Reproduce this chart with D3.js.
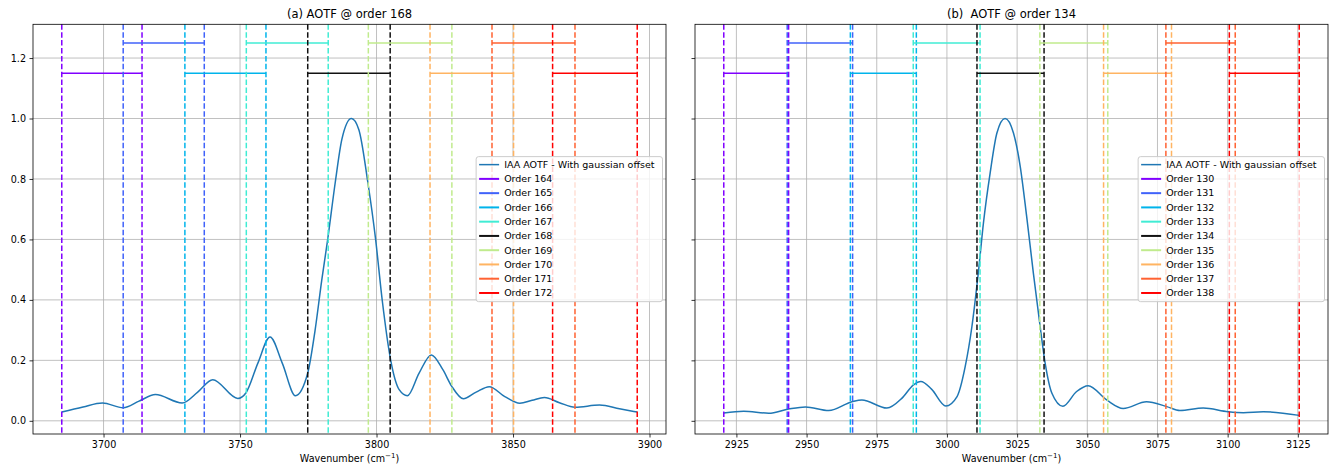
<!DOCTYPE html>
<html>
<head>
<meta charset="utf-8">
<script src="https://cdn.jsdelivr.net/npm/d3@7"></script>
<style>
  body { margin: 0; background: #fff; }
  text { font-family: "DejaVu Sans", sans-serif; }
</style>
</head>
<body>
<svg id="chart" width="1329" height="470"></svg>
<script>
// ---- data ----
const ordersA = [164, 165, 166, 167, 168, 169, 170, 171, 172];
const startA = [3684.7, 3707.2, 3729.8, 3752.3, 3774.8, 3797.0, 3819.6, 3842.3, 3864.5];
const endA   = [3714.1, 3736.9, 3759.5, 3782.3, 3805.0, 3827.6, 3850.2, 3872.7, 3895.5];

const ordersB = [130, 131, 132, 133, 134, 135, 136, 137, 138];
const startB = [2920.5, 2943.1, 2965.6, 2988.0, 3010.7, 3033.1, 3055.8, 3078.0, 3100.6];
const endB   = [2943.6, 2966.4, 2989.1, 3011.8, 3034.6, 3057.3, 3080.0, 3102.7, 3125.5];

// height of the order bars (alternating)
const barLevels = [1.15, 1.25, 1.15, 1.25, 1.15, 1.25, 1.15, 1.25, 1.15];

// AOTF curve, panel (a)
const curveAx = [3684.7, 3692.5, 3699.6, 3707.2, 3713.0, 3719.0, 3728.8, 3734.5, 3740.0, 3749.2,
  3752.2, 3756.5, 3761.0, 3765.5, 3770.3, 3774.8, 3777.5, 3779.9, 3782.1, 3784.9, 3787.3, 3790.8,
  3793.5, 3796.8, 3799.6, 3802.1, 3805.2, 3808.3, 3811.3, 3815.6, 3820.1, 3824.3, 3827.5, 3831.8,
  3836.5, 3841.3, 3847.0, 3852.5, 3857.0, 3861.5, 3867.0, 3872.7, 3881.7, 3889.0, 3895.5];
const curveAy = [0.029, 0.046, 0.059, 0.043, 0.065, 0.087, 0.059, 0.095, 0.136, 0.074,
  0.093, 0.19, 0.277, 0.19, 0.083, 0.158, 0.30, 0.463, 0.599, 0.79, 0.931, 1.0,
  0.964, 0.79, 0.605, 0.398, 0.20, 0.103, 0.083, 0.158, 0.218, 0.169, 0.115, 0.073,
  0.095, 0.113, 0.080, 0.058, 0.068, 0.077, 0.060, 0.045, 0.052, 0.040, 0.029];

// AOTF curve, panel (b)
const curveBx = [2920.5, 2927.6, 2936.5, 2943.6, 2949.6, 2957.9, 2966.2, 2969.7, 2978.6, 2984.0,
  2988.1, 2990.7, 2994.5, 2999.6, 3003.6, 3006.5, 3008.9, 3011.3, 3013.0, 3015.4, 3017.8, 3020.7,
  3023.7, 3026.1, 3028.4, 3030.8, 3033.2, 3035.0, 3037.4, 3041.3, 3046.2, 3050.3, 3056.9, 3062.8,
  3071.1, 3078.3, 3083.0, 3091.3, 3100.2, 3105.6, 3112.7, 3125.5];
const curveBy = [0.026, 0.032, 0.025, 0.039, 0.046, 0.034, 0.063, 0.069, 0.042, 0.075,
  0.119, 0.13, 0.105, 0.049, 0.08, 0.179, 0.312, 0.50, 0.654, 0.82, 0.952, 1.0,
  0.952, 0.842, 0.676, 0.488, 0.312, 0.19, 0.091, 0.048, 0.097, 0.116, 0.069, 0.041,
  0.063, 0.047, 0.034, 0.042, 0.030, 0.027, 0.030, 0.018];

const ticksA = [3700, 3750, 3800, 3850, 3900];
const ticksB = [2925, 2950, 2975, 3000, 3025, 3050, 3075, 3100, 3125];
const ticksY = [0, 0.2, 0.4, 0.6, 0.8, 1.0, 1.2];

const orderColors = ["#8000ff", "#4062fa", "#00b4eb", "#40ecd4", "#111111",
                     "#c0eb8d", "#ffb462", "#ff6232", "#ff0000"];

const svg = d3.select("#chart");
const plotTop = 24.3, plotBottom = 434;

// matplotlib style 5% margins
function pad(ext) {
  const s = ext[1] - ext[0];
  return [ext[0] - 0.05 * s, ext[1] + 0.05 * s];
}

const y = d3.scaleLinear()
  .domain(pad(d3.extent([...curveAy, ...curveBy, ...barLevels])))
  .range([plotBottom, plotTop]);

const panels = [
  { title: "(a) AOTF @ order 168", x0: 33, x1: 666, cx: curveAx, cy: curveAy,
    orders: ordersA, starts: startA, ends: endA, ticks: ticksA, yLabels: true },
  { title: "(b)  AOTF @ order 134", x0: 695, x1: 1328, cx: curveBx, cy: curveBy,
    orders: ordersB, starts: startB, ends: endB, ticks: ticksB, yLabels: false }
];

panels.forEach(p => {
  const x = d3.scaleLinear()
    .domain(pad(d3.extent([...p.cx, ...p.starts, ...p.ends])))
    .range([p.x0, p.x1]);

  const g = svg.append("g");

  // grid
  g.append("g").selectAll("line").data(p.ticks).join("line")
    .attr("x1", d => x(d)).attr("x2", d => x(d))
    .attr("y1", plotTop).attr("y2", plotBottom)
    .attr("stroke", "#b0b0b0").attr("stroke-opacity", 0.8).attr("stroke-width", 1);
  g.append("g").selectAll("line").data(ticksY).join("line")
    .attr("x1", p.x0).attr("x2", p.x1)
    .attr("y1", d => y(d)).attr("y2", d => y(d))
    .attr("stroke", "#b0b0b0").attr("stroke-opacity", 0.8).attr("stroke-width", 1);

  // AOTF curve
  const pts = p.cx.map((v, i) => [v, p.cy[i]]);
  g.append("path")
    .datum(pts)
    .attr("fill", "none")
    .attr("stroke", "#1f77b4")
    .attr("stroke-width", 1.5)
    .attr("d", d3.line().x(d => x(d[0])).y(d => y(d[1])).curve(d3.curveMonotoneX));

  // order edges and bars
  p.orders.forEach((o, i) => {
    [p.starts[i], p.ends[i]].forEach(v => {
      g.append("line")
        .attr("x1", x(v)).attr("x2", x(v))
        .attr("y1", plotTop).attr("y2", plotBottom)
        .attr("stroke", orderColors[i])
        .attr("stroke-width", 1.5)
        .attr("stroke-dasharray", "5.5,2.4");
    });
    g.append("line")
      .attr("x1", x(p.starts[i])).attr("x2", x(p.ends[i]))
      .attr("y1", y(barLevels[i])).attr("y2", y(barLevels[i]))
      .attr("stroke", orderColors[i])
      .attr("stroke-width", 1.5);
  });

  // axes
  const xAxis = g.append("g")
    .attr("transform", `translate(0,${plotBottom})`)
    .call(d3.axisBottom(x).tickValues(p.ticks).tickSize(3.5).tickPadding(3.5).tickFormat(d3.format("d")));
  const yAxis = g.append("g")
    .attr("transform", `translate(${p.x0},0)`)
    .call(d3.axisLeft(y).tickValues(ticksY).tickSize(3.5).tickPadding(3.5)
      .tickFormat(p.yLabels ? d3.format(".1f") : () => ""));
  [xAxis, yAxis].forEach(a => {
    a.select(".domain").remove();
    a.attr("font-family", "DejaVu Sans").attr("font-size", 9.6);
    a.selectAll("line").attr("stroke", "#000").attr("stroke-width", 0.8);
    a.selectAll("text").attr("fill", "#000");
  });

  // spines
  g.append("rect")
    .attr("x", p.x0).attr("y", plotTop)
    .attr("width", p.x1 - p.x0).attr("height", plotBottom - plotTop)
    .attr("fill", "none").attr("stroke", "#000").attr("stroke-width", 0.8);

  // title and x label
  g.append("text")
    .attr("x", (p.x0 + p.x1) / 2).attr("y", 18)
    .attr("text-anchor", "middle")
    .style("font-size", "11.5px")
    .style("white-space", "pre")
    .text(p.title);

  const xl = g.append("text")
    .attr("x", (p.x0 + p.x1) / 2).attr("y", 462)
    .attr("text-anchor", "middle")
    .style("font-size", "9.6px");
  xl.append("tspan").text("Wavenumber (cm");
  xl.append("tspan").attr("dy", -4).style("font-size", "7px").text("\u22121");
  xl.append("tspan").attr("dy", 4).text(")");

  // legend (center right)
  const entries = [{ label: "IAA AOTF - With gaussian offset", color: "#1f77b4", w: 1.5 }]
    .concat(p.orders.map((o, i) => ({ label: `Order ${o}`, color: orderColors[i], w: 2 })));
  const rowH = 14.26;
  const boxH = 8 + rowH * (entries.length - 1) + 8.7;
  const boxTop = (plotTop + plotBottom) / 2 - boxH / 2;
  const leg = g.append("g");
  const box = leg.append("rect")
    .attr("y", boxTop).attr("height", boxH)
    .attr("rx", 2.5)
    .attr("fill", "#fff").attr("fill-opacity", 0.8)
    .attr("stroke", "#cccccc").attr("stroke-width", 1);
  const rows = leg.selectAll("g.row").data(entries).join("g").attr("class", "row");
  const texts = rows.append("text")
    .attr("y", (d, i) => boxTop + 8 + i * rowH)
    .attr("dy", "0.35em")
    .style("font-size", "9.5px")
    .text(d => d.label);
  const maxW = d3.max(texts.nodes(), n => n.getComputedTextLength());
  const boxW = 28 + maxW + 8;
  const boxLeft = p.x1 - 3.5 - boxW;
  box.attr("x", boxLeft).attr("width", boxW);
  texts.attr("x", boxLeft + 28);
  rows.append("line")
    .attr("x1", boxLeft + 3).attr("x2", boxLeft + 23)
    .attr("y1", (d, i) => boxTop + 8 + i * rowH)
    .attr("y2", (d, i) => boxTop + 8 + i * rowH)
    .attr("stroke", d => d.color)
    .attr("stroke-width", d => d.w);
});
</script>
</body>
</html>
